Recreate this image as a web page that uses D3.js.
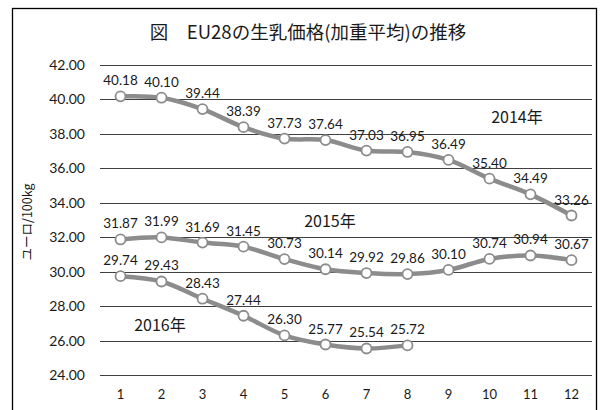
<!DOCTYPE html>
<html>
<head>
<meta charset="utf-8">
<script src="https://cdn.jsdelivr.net/npm/d3@7"></script>
<style>
  body { margin: 0; background: #fff; }
  text { font-family: Lato, "Noto Sans CJK JP", sans-serif; fill: #1a1a1a; }
</style>
</head>
<body>
<div id="chart"></div>
<script>
const months = [1, 2, 3, 4, 5, 6, 7, 8, 9, 10, 11, 12];
const y2014 = [40.18, 40.10, 39.44, 38.39, 37.73, 37.64, 37.03, 36.95, 36.49, 35.40, 34.49, 33.26];
const y2015 = [31.87, 31.99, 31.69, 31.45, 30.73, 30.14, 29.92, 29.86, 30.10, 30.74, 30.94, 30.67];
const y2016 = [29.74, 29.43, 28.43, 27.44, 26.30, 25.77, 25.54, 25.72];
const yTicks = [24, 26, 28, 30, 32, 34, 36, 38, 40, 42];

const series = [
  { name: "2014年", values: y2014, lx: 517, ly: 123 },
  { name: "2015年", values: y2015, lx: 330, ly: 227 },
  { name: "2016年", values: y2016, lx: 160, ly: 331 }
];

const width = 610, height = 410;
const svg = d3.select("#chart").append("svg")
    .attr("width", width)
    .attr("height", height);

// frame
svg.append("rect")
    .attr("x", 12.5).attr("y", 8.5)
    .attr("width", 584).attr("height", 420)
    .attr("fill", "#fff")
    .attr("stroke", "#000")
    .attr("stroke-width", 1.3);

svg.append("text")
    .attr("x", 308).attr("y", 39)
    .attr("text-anchor", "middle")
    .attr("font-size", 18.5)
    .style("font-family", "'Noto Sans CJK JP', sans-serif")
    .text("図　EU28の生乳価格(加重平均)の推移");

const x = d3.scaleBand().domain(months).range([100, 592]);
const y = d3.scaleLinear().domain([24, 42]).range([375, 65]);

// gridlines
svg.append("g")
  .selectAll("line")
  .data(yTicks)
  .join("line")
    .attr("x1", 100).attr("x2", 592)
    .attr("y1", d => Math.round(y(d)) + 0.5)
    .attr("y2", d => Math.round(y(d)) + 0.5)
    .attr("stroke", "#404040")
    .attr("stroke-width", 1);

// y tick labels
svg.append("g")
  .selectAll("text")
  .data(yTicks)
  .join("text")
    .attr("x", 85)
    .attr("y", d => y(d) + 5)
    .attr("text-anchor", "end")
    .attr("font-size", 14)
    .text(d => d.toFixed(2));

// x tick labels
svg.append("g")
  .selectAll("text")
  .data(months)
  .join("text")
    .attr("x", d => x(d) + x.bandwidth() / 2)
    .attr("y", 399)
    .attr("text-anchor", "middle")
    .attr("font-size", 13)
    .text(d => d);

// axis title
svg.append("text")
    .attr("transform", "translate(32, 222) rotate(-90)")
    .attr("text-anchor", "middle")
    .attr("font-size", 12.5)
    .style("font-family", "'Noto Sans CJK JP', sans-serif")
    .text("ユーロ/100kg");

const cx = i => x(months[i]) + x.bandwidth() / 2;
const line = d3.line()
    .x((d, i) => cx(i))
    .y(d => y(d))
    .curve(d3.curveCatmullRom.alpha(0.5));

const g = svg.append("g")
  .selectAll("g")
  .data(series)
  .join("g");

g.append("path")
    .attr("d", d => line(d.values))
    .attr("fill", "none")
    .attr("stroke", "#8c8c8c")
    .attr("stroke-width", 4.5);

g.selectAll("circle")
  .data(d => d.values)
  .join("circle")
    .attr("cx", (d, i) => cx(i))
    .attr("cy", d => y(d))
    .attr("r", 5)
    .attr("fill", "#fff")
    .attr("stroke", "#8c8c8c")
    .attr("stroke-width", 1.8);

g.selectAll("text.val")
  .data(d => d.values)
  .join("text")
    .attr("class", "val")
    .attr("x", (d, i) => cx(i))
    .attr("y", d => y(d) - 11)
    .attr("text-anchor", "middle")
    .attr("font-size", 13.5)
    .text(d => d.toFixed(2));

g.append("text")
    .attr("x", d => d.lx)
    .attr("y", d => d.ly)
    .attr("text-anchor", "middle")
    .attr("font-size", 16)
    .style("font-family", "'Noto Sans CJK JP', sans-serif")
    .text(d => d.name);
</script>
</body>
</html>
